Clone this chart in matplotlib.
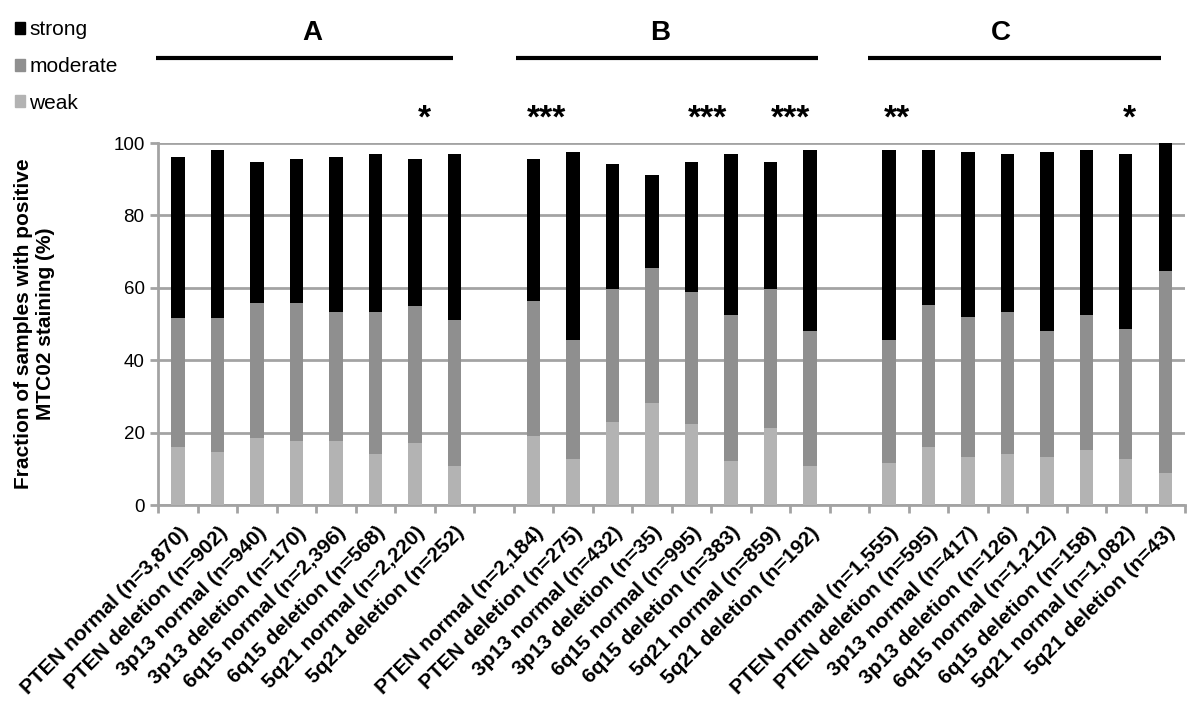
import matplotlib
matplotlib.use("Agg")
import matplotlib.pyplot as plt
from matplotlib.patches import Patch
import numpy as np

plt.rcParams['font.family'] = ['Liberation Sans', 'DejaVu Sans']

categories = [
    "PTEN normal (n=3,870)", "PTEN deletion (n=902)", "3p13 normal (n=940)", "3p13 deletion (n=170)",
    "6q15 normal (n=2,396)", "6q15 deletion (n=568)", "5q21 normal (n=2,220)", "5q21 deletion (n=252)",
    "",
    "PTEN normal (n=2,184)", "PTEN deletion (n=275)", "3p13 normal (n=432)", "3p13 deletion (n=35)",
    "6q15 normal (n=995)", "6q15 deletion (n=383)", "5q21 normal (n=859)", "5q21 deletion (n=192)",
    "",
    "PTEN normal (n=1,555)", "PTEN deletion (n=595)", "3p13 normal (n=417)", "3p13 deletion (n=126)",
    "6q15 normal (n=1,212)", "6q15 deletion (n=158)", "5q21 normal (n=1,082)", "5q21 deletion (n=43)",
]

# cumulative levels (nan = empty separator slot)
weak = [15.9, 14.7, 18.6, 17.8, 17.8, 14.0, 17.2, 10.9, np.nan,
        19.2, 12.7, 23.0, 28.2, 22.5, 12.1, 21.2, 10.9, np.nan,
        11.5, 15.9, 13.4, 14.0, 13.4, 15.3, 12.7, 8.9]
weak_moderate = [51.8, 51.8, 55.8, 55.8, 53.2, 53.2, 55.1, 51.2, np.nan,
                 56.4, 45.5, 59.7, 65.5, 58.9, 52.6, 59.7, 48.1, np.nan,
                 45.5, 55.2, 51.9, 53.2, 48.1, 52.6, 48.7, 64.7]
total = [96.2, 98.2, 94.9, 95.6, 96.2, 96.9, 95.6, 96.9, np.nan,
         95.6, 97.5, 94.3, 91.2, 94.9, 96.9, 94.9, 98.2, np.nan,
         98.2, 98.2, 97.5, 96.9, 97.5, 98.2, 96.9, 100.0]

groups = ["A", "B", "C"]
group_label_x = [3.39, 12.2, 20.84]
group_line_x = [(-0.57, 6.97), (8.56, 16.21), (17.48, 24.9)]
stars = ["*", "***", "***", "***", "**", "*"]
star_x = [6.24, 9.32, 13.42, 15.5, 18.21, 24.08]

c_weak, c_mod, c_strong = "#b3b3b3", "#8f8f8f", "#000000"
grid_c = "#a3a3a3"

weak_a = np.array(weak)
mod_a = np.array(weak_moderate) - weak_a
strong_a = np.array(total) - np.array(weak_moderate)
x = np.arange(len(categories))

fig = plt.figure(figsize=(12, 7.19), dpi=100)
ax = fig.add_axes([0.132, 0.2976, 0.8555, 0.5034])

w = 0.34
ax.bar(x, np.nan_to_num(weak_a), w, color=c_weak, zorder=3)
ax.bar(x, np.nan_to_num(mod_a), w, bottom=np.nan_to_num(weak_a), color=c_mod, zorder=3)
ax.bar(x, np.nan_to_num(strong_a), w, bottom=np.nan_to_num(np.array(weak_moderate)), color=c_strong, zorder=3)

ax.set_xlim(-0.5, len(categories) - 0.5)
ax.set_ylim(0, 100)
ax.set_yticks([0, 20, 40, 60, 80, 100])
ax.yaxis.grid(True, color=grid_c, linewidth=2, zorder=0)
ax.set_axisbelow(True)
for s in ["top", "right"]:
    ax.spines[s].set_visible(False)
for s in ["left", "bottom"]:
    ax.spines[s].set_color(grid_c)
    ax.spines[s].set_linewidth(2)
ax.tick_params(axis='y', colors=grid_c, length=6, width=2, labelsize=13.5, labelcolor='black', pad=4)

ax.set_xticks(x)
ax.set_xticklabels(categories, rotation=45, ha='right', va='top', rotation_mode='anchor',
                   fontsize=15, fontweight='bold')
ax.tick_params(axis='x', length=0, pad=13)
ax.set_xticks(np.arange(-0.5, len(categories), 1.0), minor=True)
ax.tick_params(axis='x', which='minor', length=6, width=2, color=grid_c)

ax.set_ylabel("Fraction of samples with positive\nMTC02 staining (%)", fontsize=15,
              fontweight='bold', labelpad=42)

for g, gx, (l0, l1) in zip(groups, group_label_x, group_line_x):
    ax.text(gx, 130.5, g, ha='center', va='center', fontsize=20, fontweight='bold', clip_on=False)
    ax.plot([l0, l1], [123.5, 123.5], color='black', linewidth=3, clip_on=False,
            solid_capstyle='butt')
for s, sx in zip(stars, star_x):
    ax.text(sx, 106.5, s, ha='center', va='center', fontsize=24, fontweight='bold', clip_on=False)

handles = [Patch(color=c_strong, label='strong'), Patch(color=c_mod, label='moderate'),
           Patch(color=c_weak, label='weak')]
fig.legend(handles=handles, loc='upper left', bbox_to_anchor=(0.0, 0.992), frameon=False,
           fontsize=15, handlelength=0.5, handleheight=0.5, handletextpad=0.2,
           labelspacing=0.85, borderaxespad=0.3)

fig.savefig("out.png", dpi=100)
